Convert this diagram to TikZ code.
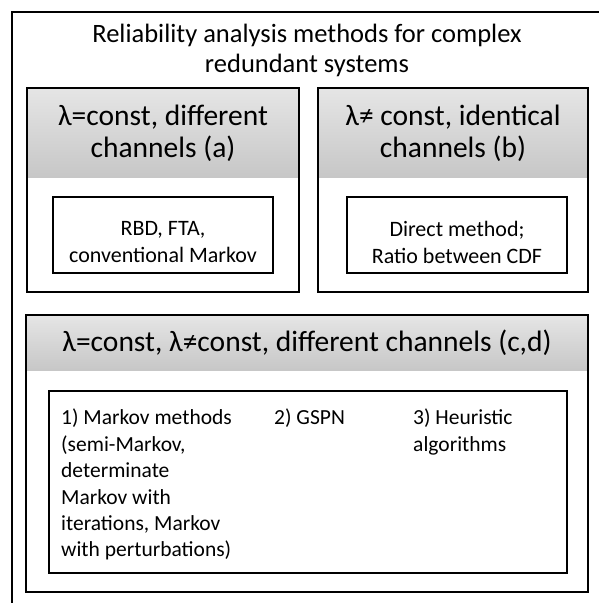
\documentclass[tikz,border=0pt]{standalone}
\usepackage{fontspec}
\setmainfont{Carlito}
\begin{document}
\begin{tikzpicture}[x=1pt,y=1pt,
  box/.style={draw=black, line width=1.4pt},
  hdr/.style={top color=gray!20, bottom color=gray!44},
  ttl/.style={font=\fontsize{26.5}{30}\selectfont, align=center, inner sep=0pt},
  htxt/.style={font=\fontsize{29.5}{32}\selectfont, align=center, inner sep=0pt},
  itxt/.style={font=\fontsize{22}{27}\selectfont, align=center, inner sep=0pt},
  ctxt/.style={font=\fontsize{21.5}{26.4}\selectfont, align=left, inner sep=0pt, anchor=north west}]
\useasboundingbox (0,0) rectangle (598,-603);
% outer frame (extends past right and bottom edges)
\draw[line width=1.4pt] (12,-610) -- (12,-12) -- (610,-12);
\node[ttl] (title) at (307,-50) {Reliability analysis methods for complex\\redundant systems};
% box a
\shade[hdr] (27,-88) rectangle (299,-177);
\draw[box] (27,-88) rectangle (299,-292);
\node[htxt] (ha) at (163,-133) {λ=const, different\\channels (a)};
\draw[box] (53,-197) rectangle (273,-273);
\node[itxt] (ia) at (163,-242) {RBD, FTA,\\conventional Markov};
% box b
\shade[hdr] (318,-88) rectangle (588,-177);
\draw[box] (318,-88) rectangle (588,-292);
\node[htxt] (hb) at (453,-133) {λ≠ const, identical\\channels (b)};
\draw[box] (347,-197) rectangle (567,-273);
\node[itxt] (ib) at (457,-242) {Direct method;\\Ratio between CDF};
% box c
\shade[hdr] (26,-315) rectangle (588,-370);
\draw[box] (26,-315) rectangle (588,-592);
\node[htxt] (hc) at (307,-343) {λ=const, λ≠const, different channels (c,d)};
\draw[box] (49,-391) rectangle (567,-573);
\node[ctxt] (c1) at (61,-409) {1) Markov methods\\(semi-Markov,\\determinate\\Markov with\\iterations, Markov\\with perturbations)};
\node[ctxt] (c2) at (274,-409) {2) GSPN};
\node[ctxt] (c3) at (413,-409) {3) Heuristic\\algorithms};
\end{tikzpicture}
\end{document}
